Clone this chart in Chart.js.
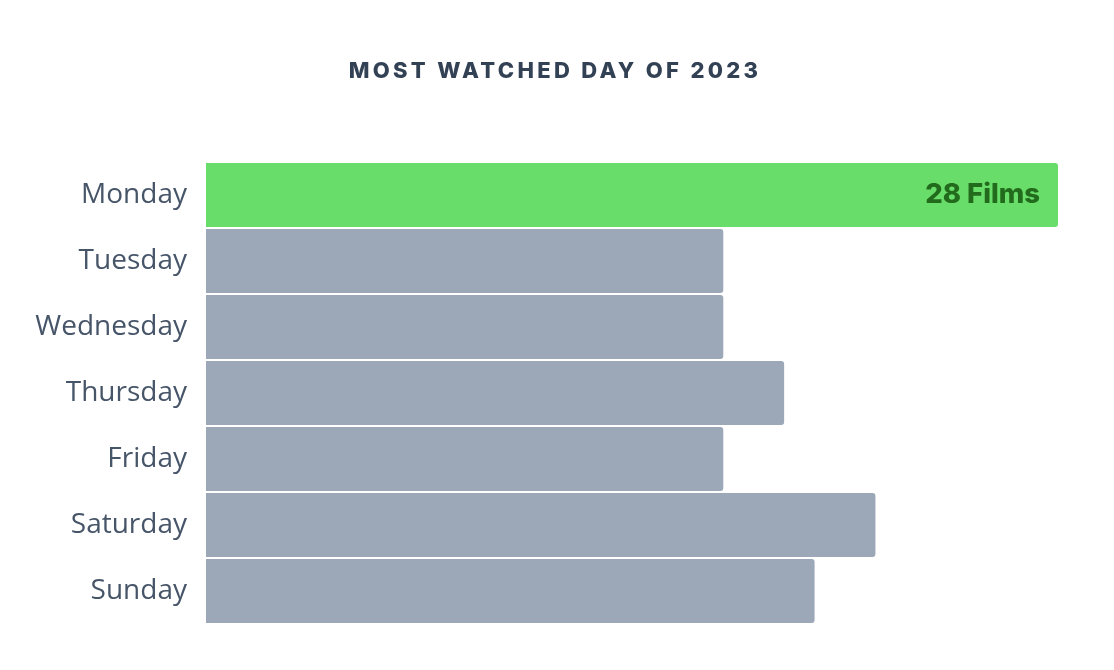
<!DOCTYPE html>
<html>
<head>
<meta charset="utf-8">
<script src="https://cdn.jsdelivr.net/npm/chart.js@4.4.0/dist/chart.umd.min.js"></script>
<style>
html,body{margin:0;padding:0;background:#fff;}
#wrap{width:1114px;height:670px;position:relative;}
</style>
</head>
<body>
<div id="wrap"><canvas id="c" width="1114" height="670"></canvas></div>
<script>
const days = ["Monday","Tuesday","Wednesday","Thursday","Friday","Saturday","Sunday"];
const films = [28, 17, 17, 19, 17, 22, 20];
const chartTitle = "MOST WATCHED DAY OF 2023";
const topLabel = "28 Films";

const barColors = films.map((v, i) => i === 0 ? "#68dd6a" : "#9ca8b8");

const overlay = {
  id: "overlay",
  afterDraw(chart) {
    const ctx = chart.ctx;
    ctx.save();
    ctx.fillStyle = "#334155";
    ctx.font = "800 22px 'Inter', sans-serif";
    try { ctx.letterSpacing = "3.3px"; } catch (e) {}
    ctx.textAlign = "center";
    ctx.textBaseline = "middle";
    ctx.fillText(chartTitle, 555, 71);
    try { ctx.letterSpacing = "0px"; } catch (e) {}
    const meta = chart.getDatasetMeta(0);
    const bar = meta.data[0];
    ctx.fillStyle = "#236b1c";
    ctx.font = "800 27.5px 'Inter', sans-serif";
    ctx.textAlign = "right";
    ctx.fillText(topLabel, bar.x - 18, bar.y);
    ctx.restore();
  }
};

new Chart(document.getElementById("c"), {
  type: "bar",
  data: {
    labels: days,
    datasets: [{
      data: films,
      backgroundColor: barColors,
      borderRadius: 3,
      borderSkipped: "start",
      barPercentage: 0.97,
      categoryPercentage: 1
    }]
  },
  options: {
    indexAxis: "y",
    responsive: false,
    animation: false,
    devicePixelRatio: 1,
    layout: { padding: { left: 0, right: 56, top: 162, bottom: 46 } },
    plugins: { legend: { display: false }, tooltip: { enabled: false }, title: { display: false } },
    scales: {
      x: { display: false, min: 0, max: 28 },
      y: {
        grid: { display: false, drawTicks: false },
        border: { display: false },
        ticks: { color: "#475569", font: { family: "'Open Sans'", size: 28 }, padding: 19 },
        afterFit(scale) { scale.width = 206; }
      }
    }
  },
  plugins: [overlay]
});
</script>
</body>
</html>
